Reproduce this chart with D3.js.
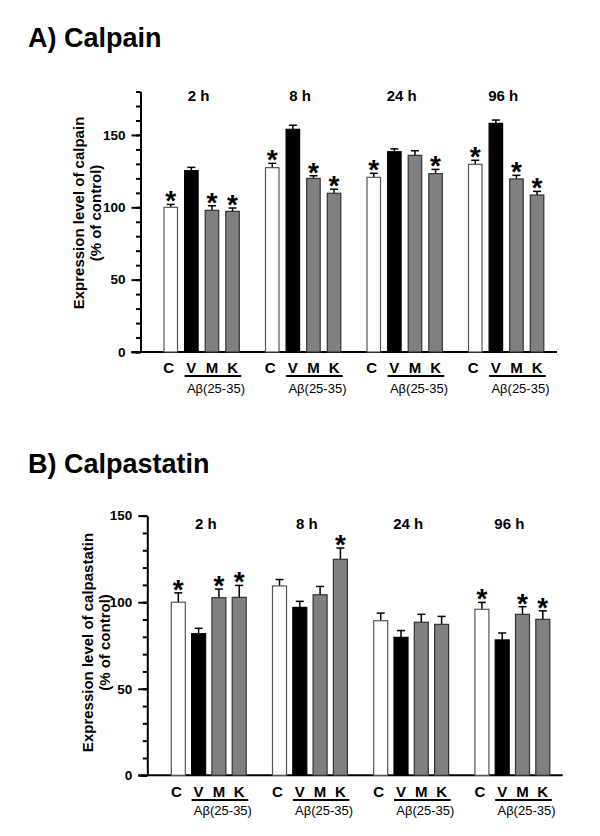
<!DOCTYPE html>
<html><head><meta charset="utf-8">
<script src="https://cdn.jsdelivr.net/npm/d3@7"></script>
<style>
body{margin:0;background:#fff;}
svg text{font-family:"Liberation Sans",Arial,Helvetica,sans-serif;}
</style></head>
<body><svg id="c" width="600" height="836"></svg>
<script>
// ---- data ----
const timeLabels = ["2 h","8 h","24 h","96 h"];
const categories = ["C","V","M","K"];
const treatLabel = "Aβ(25-35)";
const calpainMean = [[100,125.3,97.9,97.2],[127.4,153.9,120,109.7],[120.7,138.4,135.9,123.2],[129.7,158,119.6,108.5]];
const calpainErr  = [[2,2.3,3.2,2.3],[3,2.8,1.8,2.8],[2.8,2,3.2,3],[2.8,2.3,2.5,2.5]];
const calpainSig  = [[1,0,1,1],[1,0,1,1],[1,0,0,1],[1,0,1,1]];
const calpastatinMean = [[100,81.8,102.6,102.8],[109.4,97,104.3,124.8],[89.3,79.7,88.4,87.2],[95.9,78.2,93,90.1]];
const calpastatinErr  = [[5.4,3.1,5,6.9],[3.7,3.5,4.8,6.5],[4.4,3.9,4.6,4.6],[4,4,4.4,4.9]];
const calpastatinSig  = [[1,0,1,1],[0,0,0,1],[0,0,0,0],[1,0,1,1]];
const majorTicksA = [0,50,100,150];
const majorTicksB = [0,50,100,150];

const fills = {C:"#ffffff",V:"#000000",M:"#808080",K:"#808080"};
const strokes = {C:"#555555",V:"#000000",M:"#333333",K:"#333333"};

const svg = d3.select("#c");

function panel(o){
  const g = svg.append("g");
  g.append("text").attr("x",28).attr("y",o.titleY).attr("font-size",27).attr("font-weight","bold").text(o.title);
  const y = d3.scaleLinear().domain([0,o.yMax]).range([o.y0, o.y0 - o.yMax*o.pxPerUnit]);
  const x0 = d3.scaleBand().domain(timeLabels).range([o.gStart, o.gStart + 4*o.gStep]).paddingInner(0).paddingOuter(0);
  const x1 = d3.scaleBand().domain(categories).range([0, 3*o.bStep + o.bW]).paddingInner(1 - o.bW/o.bStep).paddingOuter(0);
  // minor axis
  g.append("g").attr("transform",`translate(${o.axisX},0)`)
    .call(d3.axisLeft(y).tickValues(d3.range(0,o.yMax+1,10)).tickSize(4.5).tickFormat("").tickSizeOuter(0))
    .call(s=>{s.selectAll("line").attr("stroke","#000").attr("stroke-width",2);s.select(".domain").attr("stroke","#000").attr("stroke-width",2);});
  // major axis
  g.append("g").attr("transform",`translate(${o.axisX},0)`)
    .call(d3.axisLeft(y).tickValues(o.majorTicks).tickSize(9).tickPadding(6).tickSizeOuter(0))
    .call(s=>{s.select(".domain").remove();s.selectAll("line").attr("stroke","#000").attr("stroke-width",2);
      s.selectAll("text").attr("font-size",13.5).attr("font-weight","bold").attr("fill","#000").attr("font-family","Liberation Sans, Arial, sans-serif");});
  // baseline
  g.append("line").attr("x1",o.axisX-9).attr("x2",o.baseEnd).attr("y1",y(0)).attr("y2",y(0)).attr("stroke","#000").attr("stroke-width",2);
  // y label
  const yl = g.append("text").attr("transform",`translate(${o.ylX},${o.ylY}) rotate(-90)`)
    .attr("text-anchor","middle").attr("font-size",15).attr("font-weight","bold");
  yl.append("tspan").attr("x",0).attr("dy",0).text(o.yLabel);
  yl.append("tspan").attr("x",0).attr("dy",17).text("(% of control)");

  timeLabels.forEach((t,gi)=>{
    const gx = x0(t);
    const gg = g.append("g").attr("transform",`translate(${gx},0)`);
    gg.append("text").attr("x",(3*o.bStep+o.bW)/2 - 3).attr("y",o.groupLabelY).attr("text-anchor","middle")
      .attr("font-size",15).attr("font-weight","bold").text(t);
    categories.forEach((c,ci)=>{
      const v = o.mean[gi][ci], e = o.err[gi][ci];
      const bx = x1(c), bw = x1.bandwidth(), cx = bx + bw/2;
      gg.append("line").attr("x1",cx).attr("x2",cx).attr("y1",y(v)).attr("y2",y(v+e)).attr("stroke","#000").attr("stroke-width",1.5);
      gg.append("line").attr("x1",cx-4).attr("x2",cx+4).attr("y1",y(v+e)).attr("y2",y(v+e)).attr("stroke","#000").attr("stroke-width",1.5);
      gg.append("rect").attr("x",bx).attr("y",y(v)).attr("width",bw).attr("height",y(0)-y(v))
        .attr("fill",fills[c]).attr("stroke",strokes[c]).attr("stroke-width",1.2);
      if(o.sig[gi][ci]){
        gg.append("text").attr("x",cx).attr("y",y(v+e)+6).attr("text-anchor","middle")
          .attr("font-size",28).attr("font-weight","bold").text("*");
      }
      gg.append("text").attr("x",cx + (c==="C"?-2:0)).attr("y",o.catY).attr("text-anchor","middle")
        .attr("font-size",15).attr("font-weight","bold").text(c);
    });
    gg.append("line").attr("x1",x1("V")).attr("x2",x1("K")+x1.bandwidth()+2).attr("y1",o.ulY).attr("y2",o.ulY)
      .attr("stroke","#000").attr("stroke-width",2);
    gg.append("text").attr("x",(x1("V")+x1("K")+x1.bandwidth())/2 + 4).attr("y",o.abY).attr("text-anchor","middle")
      .attr("font-size",13).text(treatLabel);
  });
}

panel({title:"A) Calpain", titleY:47, yMax:180, y0:352, pxPerUnit:1.447, axisX:140.5, baseEnd:557,
  gStart:164, gStep:101.5, bStep:20.6, bW:13.5, majorTicks:majorTicksA,
  mean:calpainMean, err:calpainErr, sig:calpainSig,
  yLabel:"Expression level of calpain", ylX:84, ylY:213,
  groupLabelY:101, catY:372.5, ulY:376, abY:393});

panel({title:"B) Calpastatin", titleY:473, yMax:150, y0:775.3, pxPerUnit:1.731, axisX:147.3, baseEnd:562.7,
  gStart:171.3, gStep:101.2, bStep:20.3, bW:14, majorTicks:majorTicksB,
  mean:calpastatinMean, err:calpastatinErr, sig:calpastatinSig,
  yLabel:"Expression level of calpastatin", ylX:93, ylY:642.5,
  groupLabelY:528.8, catY:796.5, ulY:800, abY:815});
</script></body></html>
